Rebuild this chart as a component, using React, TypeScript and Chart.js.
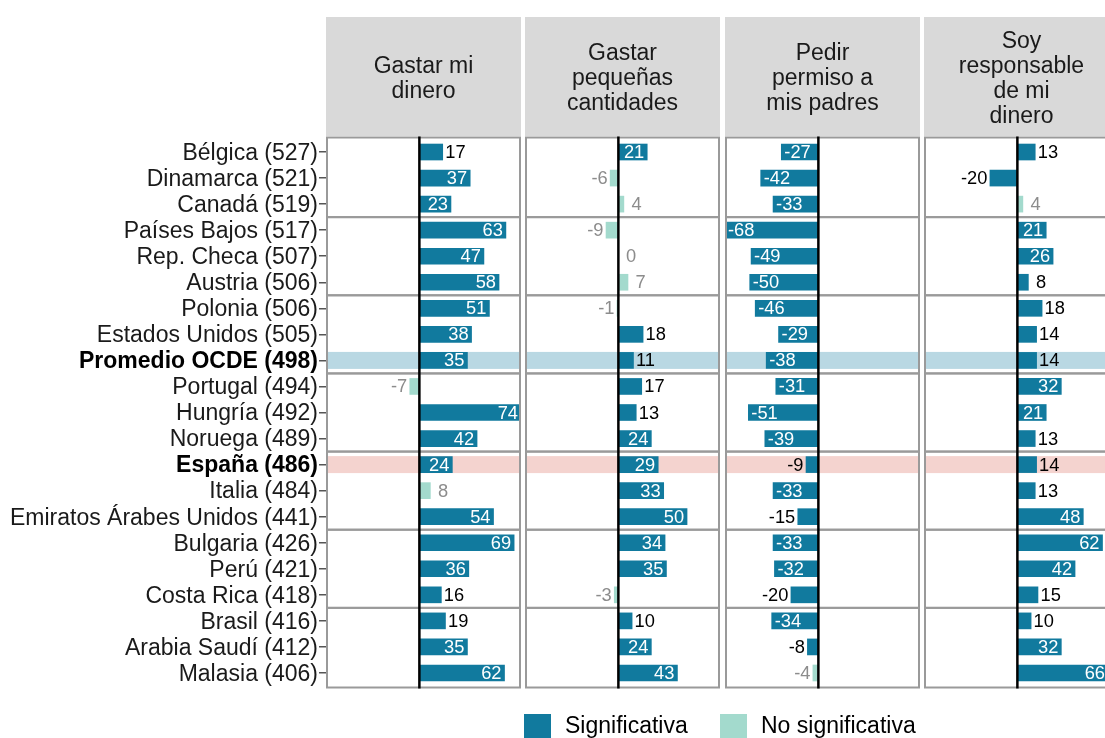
import React, { useEffect, useRef } from 'react';
import { Chart, registerables } from 'chart.js';

Chart.register(...registerables);

// ---------------- DATA ----------------
const COUNTRIES = [
  'Bélgica (527)', 'Dinamarca (521)', 'Canadá (519)',
  'Países Bajos (517)', 'Rep. Checa (507)', 'Austria (506)',
  'Polonia (506)', 'Estados Unidos (505)', 'Promedio OCDE (498)',
  'Portugal (494)', 'Hungría (492)', 'Noruega (489)',
  'España (486)', 'Italia (484)', 'Emiratos Árabes Unidos (441)',
  'Bulgaria (426)', 'Perú (421)', 'Costa Rica (418)',
  'Brasil (416)', 'Arabia Saudí (412)', 'Malasia (406)',
];

const PANEL_TITLES = [
  ['Gastar mi', 'dinero'],
  ['Gastar', 'pequeñas', 'cantidades'],
  ['Pedir', 'permiso a', 'mis padres'],
  ['Soy', 'responsable', 'de mi', 'dinero'],
];

const GASTAR_MI_DINERO = [17, 37, 23, 63, 47, 58, 51, 38, 35, -7, 74, 42, 24, 8, 54, 69, 36, 16, 19, 35, 62];
const GASTAR_PEQUENAS = [21, -6, 4, -9, 0, 7, -1, 18, 11, 17, 13, 24, 29, 33, 50, 34, 35, -3, 10, 24, 43];
const PEDIR_PERMISO = [-27, -42, -33, -68, -49, -50, -46, -29, -38, -31, -51, -39, -9, -33, -15, -33, -32, -20, -34, -8, -4];
const SOY_RESPONSABLE = [13, -20, 4, 21, 26, 8, 18, 14, 14, 32, 21, 13, 14, 13, 48, 62, 42, 15, 10, 32, 66];

// 1 = significativa, 0 = no significativa
const SIG_GASTAR_MI_DINERO = [1, 1, 1, 1, 1, 1, 1, 1, 1, 0, 1, 1, 1, 0, 1, 1, 1, 1, 1, 1, 1];
const SIG_GASTAR_PEQUENAS = [1, 0, 0, 0, 0, 0, 0, 1, 1, 1, 1, 1, 1, 1, 1, 1, 1, 0, 1, 1, 1];
const SIG_PEDIR_PERMISO = [1, 1, 1, 1, 1, 1, 1, 1, 1, 1, 1, 1, 1, 1, 1, 1, 1, 1, 1, 1, 0];
const SIG_SOY_RESPONSABLE = [1, 1, 0, 1, 1, 1, 1, 1, 1, 1, 1, 1, 1, 1, 1, 1, 1, 1, 1, 1, 1];

const PANEL_VALUES = [GASTAR_MI_DINERO, GASTAR_PEQUENAS, PEDIR_PERMISO, SOY_RESPONSABLE];
const PANEL_SIG = [SIG_GASTAR_MI_DINERO, SIG_GASTAR_PEQUENAS, SIG_PEDIR_PERMISO, SIG_SOY_RESPONSABLE];

const BOLD_LABELS = ['Promedio OCDE (498)', 'España (486)'];
const OCDE_LABEL = 'Promedio OCDE (498)';
const SPAIN_LABEL = 'España (486)';
const GROUP_SIZE = 3;
const X_MIN = -68;
const X_MAX = 74;
const LEGEND_LABELS = ['Significativa', 'No significativa'];

// ---------------- STYLE ----------------
const FONT = '"Liberation Sans", Arial, Helvetica, sans-serif';
const DARK = '#117a9e';
const LIGHT = '#a3dacd';
const GRAY_TXT = '#8c8c8c';
const BORDER = '#9a9a9a';
const HEADER_BG = '#d9d9d9';
const BAND_BLUE = '#b9d8e3';
const BAND_PINK = '#f4d3cf';
const TXT_SIZE = 23;

const PANEL_LEFTS = [326, 525, 725, 924];
const PANEL_W = 195;
const CANVAS_H = 738;
const PAD_TOP = 139;
const PAD_BOTTOM = 52;
const HEADER_TOP = 17;
const HEADER_BOTTOM = 136;

function makePlugin(panelIdx: number) {
  const values = PANEL_VALUES[panelIdx];
  const sig = PANEL_SIG[panelIdx];
  return {
    id: 'decor' + panelIdx,
    beforeDraw(chart: any) {
      const { ctx, chartArea } = chart;
      ctx.save();
      ctx.fillStyle = HEADER_BG;
      ctx.fillRect(chartArea.left, HEADER_TOP, chartArea.right - chartArea.left, HEADER_BOTTOM - HEADER_TOP);
      const lines = PANEL_TITLES[panelIdx];
      const lh = 24.9;
      const cy = 77.5;
      ctx.fillStyle = '#1a1a1a';
      ctx.font = `${TXT_SIZE}px ${FONT}`;
      ctx.textAlign = 'center';
      ctx.textBaseline = 'middle';
      const cx = (chartArea.left + chartArea.right) / 2;
      lines.forEach((ln, i) => {
        const y = cy + (i - (lines.length - 1) / 2) * lh;
        ctx.fillText(ln, cx, y + 1.5);
      });
      ctx.restore();
    },
    beforeDatasetsDraw(chart: any) {
      const { ctx, chartArea } = chart;
      const ys = chart.scales.y;
      ctx.save();
      const bands: [string, string][] = [[OCDE_LABEL, BAND_BLUE], [SPAIN_LABEL, BAND_PINK]];
      bands.forEach(([lab, col]) => {
        const idx = COUNTRIES.indexOf(lab);
        const y = ys.getPixelForValue(idx);
        ctx.fillStyle = col;
        ctx.fillRect(chartArea.left, y - 8.5, chartArea.right - chartArea.left, 17);
      });
      ctx.restore();
    },
    afterDatasetsDraw(chart: any) {
      const { ctx, chartArea } = chart;
      const xs = chart.scales.x;
      const ys = chart.scales.y;
      const top = chartArea.top;
      const bottom = chartArea.bottom;
      const pitch = (bottom - top) / COUNTRIES.length;
      const nGroups = Math.ceil(COUNTRIES.length / GROUP_SIZE);
      ctx.save();
      // group boxes
      ctx.strokeStyle = BORDER;
      ctx.lineWidth = 2;
      for (let g = 0; g < nGroups; g++) {
        let y0 = top + g * GROUP_SIZE * pitch;
        let y1 = top + (g + 1) * GROUP_SIZE * pitch;
        if (g === 0) y0 -= 1.5;
        if (g === nGroups - 1) y1 += 1.5;
        ctx.strokeRect(chartArea.left + 1, y0, chartArea.right - chartArea.left - 2, y1 - y0);
      }
      // zero line
      const x0 = xs.getPixelForValue(0);
      ctx.strokeStyle = '#000';
      ctx.lineWidth = 2.5;
      ctx.beginPath();
      ctx.moveTo(x0, top - 2.5);
      ctx.lineTo(x0, bottom + 2.5);
      ctx.stroke();
      // labels
      ctx.font = `18.3px ${FONT}`;
      ctx.textBaseline = 'middle';
      values.forEach((v, i) => {
        const xe = xs.getPixelForValue(v);
        const y = ys.getPixelForValue(i);
        const txt = v >= 0 && v < 10 ? ' ' + v : String(v);
        const inside = Math.abs(v) > 20;
        if (inside) {
          ctx.fillStyle = '#ffffff';
          if (v > 0) {
            ctx.textAlign = 'right';
            ctx.fillText(txt, xe - 3, y + 1);
          } else {
            ctx.textAlign = 'left';
            ctx.fillText(txt, xe + 3, y + 1);
          }
        } else {
          ctx.fillStyle = sig[i] ? '#000000' : GRAY_TXT;
          if (v >= 0) {
            ctx.textAlign = 'left';
            ctx.fillText(txt, xe + 2.5, y + 1);
          } else {
            ctx.textAlign = 'right';
            ctx.fillText(txt, xe - 2.5, y + 1);
          }
        }
      });
      ctx.restore();
    },
  };
}

function Panel({ index }: { index: number }) {
  const ref = useRef<HTMLCanvasElement>(null);
  const first = index === 0;
  const canvasLeft = first ? 0 : PANEL_LEFTS[index] - 5;
  const canvasW = first ? PANEL_LEFTS[0] + PANEL_W + 9 : PANEL_W + 10;

  useEffect(() => {
    const values = PANEL_VALUES[index];
    const sig = PANEL_SIG[index];
    const chart = new Chart(ref.current as HTMLCanvasElement, {
      type: 'bar',
      data: {
        labels: COUNTRIES,
        datasets: [
          {
            data: values,
            backgroundColor: sig.map((s) => (s ? DARK : LIGHT)),
            barThickness: 16,
            borderWidth: 0,
          },
        ],
      },
      options: {
        indexAxis: 'y',
        animation: false,
        responsive: false,
        devicePixelRatio: 1,
        layout: {
          padding: {
            top: PAD_TOP,
            bottom: PAD_BOTTOM,
            left: first ? 0 : 5,
            right: first ? 9 : 5,
          },
        },
        plugins: {
          legend: { display: false },
          tooltip: { enabled: false },
        },
        scales: {
          x: {
            type: 'linear',
            min: X_MIN,
            max: X_MAX,
            display: false,
          },
          y: {
            type: 'category',
            display: first,
            offset: true,
            afterFit: (scale: any) => {
              if (first) scale.width = PANEL_LEFTS[0];
            },
            grid: {
              offset: false,
              drawOnChartArea: false,
              drawTicks: true,
              tickLength: 7,
              tickColor: '#555555',
              lineWidth: 1.5,
            },
            border: { display: false },
            ticks: {
              autoSkip: false,
              padding: 1,
              labelOffset: 1.5,
              font: (ctx: any) => ({
                family: FONT,
                size: TXT_SIZE,
                weight: BOLD_LABELS.includes(COUNTRIES[ctx.index]) ? 'bold' : 'normal',
              }),
              color: (ctx: any) => (BOLD_LABELS.includes(COUNTRIES[ctx.index]) ? '#000000' : '#1a1a1a'),
            },
          },
        },
      },
      plugins: [makePlugin(index)],
    } as any);
    return () => chart.destroy();
  }, [index]);

  return (
    <canvas
      ref={ref}
      width={canvasW}
      height={CANVAS_H}
      style={{ position: 'absolute', left: canvasLeft, top: 0, width: canvasW, height: CANVAS_H }}
    />
  );
}

export default function App() {
  return (
    <div
      style={{
        position: 'absolute',
        left: 0,
        top: 0,
        width: 1105,
        height: 738,
        overflow: 'hidden',
        background: '#ffffff',
        fontFamily: FONT,
      }}
    >
      {PANEL_VALUES.map((_, i) => (
        <Panel key={i} index={i} />
      ))}
      {/* Legend */}
      <div style={{ position: 'absolute', left: 524, top: 714, width: 27, height: 27, background: DARK }} />
      <div
        style={{
          position: 'absolute',
          left: 565,
          top: 714,
          fontSize: `${TXT_SIZE}px`,
          lineHeight: `${TXT_SIZE}px`,
          color: '#000',
          whiteSpace: 'nowrap',
        }}
      >
        {LEGEND_LABELS[0]}
      </div>
      <div style={{ position: 'absolute', left: 720, top: 714, width: 27, height: 27, background: LIGHT }} />
      <div
        style={{
          position: 'absolute',
          left: 761,
          top: 714,
          fontSize: `${TXT_SIZE}px`,
          lineHeight: `${TXT_SIZE}px`,
          color: '#000',
          whiteSpace: 'nowrap',
        }}
      >
        {LEGEND_LABELS[1]}
      </div>
    </div>
  );
}
